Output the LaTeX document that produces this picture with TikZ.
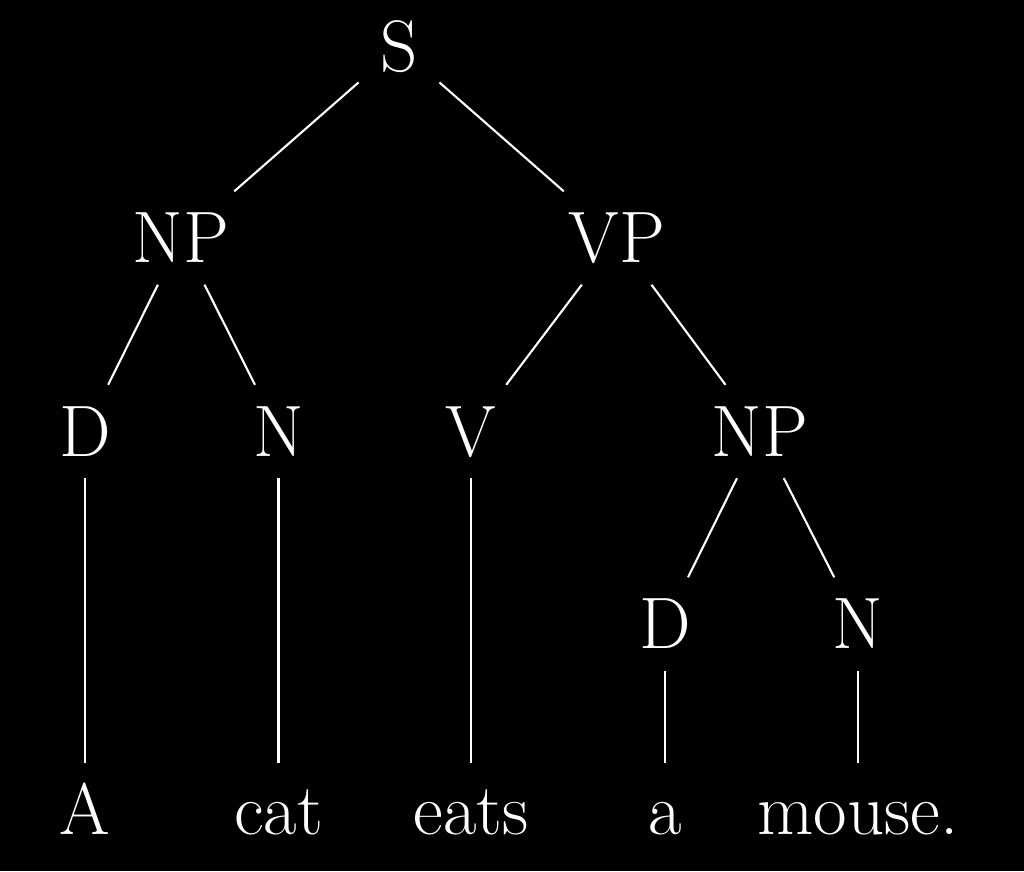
\documentclass[tikz,border=0pt]{standalone}
\usepackage{fontspec}
\usepackage{xcolor}
\usepackage{tikz}
\definecolor{treeColor}{RGB}{255, 255, 255}

\begin{document}
\begin{tikzpicture}[font=\fontsize{20.74}{25}\selectfont,
	every node/.style={text=treeColor, text height=14.17pt, text depth=0pt, inner sep=6pt}]
	% Background
	\fill[black] (0, 0) rectangle (10.24, -8.71);
	\useasboundingbox (0, 0) rectangle (10.24, -8.71);

	% Phrase categories
	\node (s) at (3.99, -0.47) {S};
	\node (np1) at (1.81, -2.38) {NP};
	\node (vp) at (6.17, -2.38) {VP};
	\node (d1) at (0.85, -4.315) {D};
	\node (n1) at (2.785, -4.315) {N};
	\node (v) at (4.71, -4.315) {V};
	\node (np2) at (7.60, -4.315) {NP};
	\node (d2) at (6.65, -6.24) {D};
	\node (n2) at (8.58, -6.24) {N};

	% Words of the sentence
	\node (wA) at (0.85, -8.10) {A};
	\node (wCat) at (2.785, -8.10) {cat};
	\node (wEats) at (4.71, -8.10) {eats};
	\node (wa) at (6.65, -8.10) {a};
	\node (wMouse) at (8.58, -8.10) {mouse.};

	% Branches
	\draw[treeColor, line width=0.6pt] (s) -- (np1) (s) -- (vp);
	\draw[treeColor, line width=0.6pt] (np1) -- (d1) (np1) -- (n1);
	\draw[treeColor, line width=0.6pt] (vp) -- (v) (vp) -- (np2);
	\draw[treeColor, line width=0.6pt] (np2) -- (d2) (np2) -- (n2);
	\draw[treeColor, line width=0.6pt] (d1) -- (wA) (n1) -- (wCat) (v) -- (wEats);
	\draw[treeColor, line width=0.6pt] (d2) -- (wa) (n2) -- (wMouse);
\end{tikzpicture}
\end{document}
